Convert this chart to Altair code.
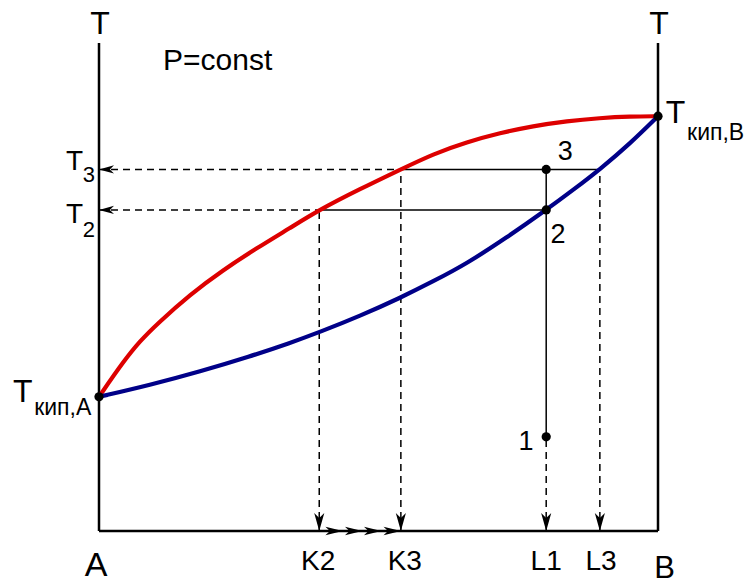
import altair as alt
import pandas as pd

# Boiling diagram (T–x) of a binary mixture A–B at constant pressure.
# Composition runs 0..100 (% of B), temperature in arbitrary units.

# vapour (dew) curve – upper, red
vapor_x = [0, 4.29, 7.33, 10.38, 16.28, 22.18, 28.26, 34.17, 39.4, 46.69,
           54.0, 59.75, 65.83, 71.74, 77.64, 83.72, 89.62, 94.99, 100]
vapor_t = [27.5, 34.63, 38.93, 42.42, 48.46, 53.48, 57.99, 62.09, 65.8, 70.08,
           74.1, 77.25, 79.71, 81.56, 82.99, 84.02, 84.63, 84.94, 85.0]

# liquid (boiling) curve – lower, blue
liquid_x = [0, 9.12, 18.07, 27.01, 34.17, 39.53, 46.69, 53.85, 59.75, 65.83,
            72.81, 80.0, 85.15, 89.6, 94.99, 100]
liquid_t = [27.5, 29.92, 32.68, 35.76, 38.52, 40.78, 44.06, 47.75, 51.13, 54.82,
            60.04, 65.8, 70.18, 74.1, 79.37, 85.0]

# characteristic temperatures and compositions
t_boil_a, t_boil_b = 27.5, 85.0
t1, t2, t3 = 19.3, 65.8, 74.1
k2, k3 = 39.4, 54.0
l1, l3 = 80.0, 89.6
shift_x = [43.6, 47.1, 50.5, 54.0]  # vapour composition drifting from K2 to K3

FONT = "Liberation Sans"
RED = "#DD0000"
BLUE = "#000088"
ARROW = "M0,0L-1,-0.28L-0.72,0L-1,0.28Z"
CHEVRON = "M0,0L-1,-0.24L-0.74,0L-1,0.24Z"

X = alt.Scale(domain=[0, 100], nice=False, zero=False)
Y = alt.Scale(domain=[0, 100], nice=False, zero=False)


def segs(rows):
    return pd.DataFrame(rows, columns=["x", "y", "x2", "y2"])


def rules(df, **kw):
    return alt.Chart(df).mark_rule(color="black", **kw).encode(
        x=alt.X("x:Q", scale=X, axis=None),
        y=alt.Y("y:Q", scale=Y, axis=None),
        x2="x2:Q",
        y2="y2:Q",
    )


frame = segs([
    [0, 0, 0, 100],
    [100, 0, 100, 100],
    [0, 0, 100, 0],
])

solid = segs([
    [k2, t2, l1, t2],
    [k3, t3, l3, t3],
    [l1, t1, l1, t3],
])

dashed = segs([
    [0, t2, k2, t2],
    [0, t3, k3, t3],
    [k2, 0, k2, t2],
    [k3, 0, k3, t3],
    [l1, 0, l1, t1],
    [l3, 0, l3, t3],
])

curves = pd.concat([
    pd.DataFrame({"x": vapor_x, "t": vapor_t, "phase": "vapor"}),
    pd.DataFrame({"x": liquid_x, "t": liquid_t, "phase": "liquid"}),
])

dots = pd.DataFrame({
    "x": [0, 100, l1, l1, l1],
    "t": [t_boil_a, t_boil_b, t1, t2, t3],
})

arrows = pd.DataFrame({
    "x": [0, 0, k2, k3, l1, l3],
    "t": [t3, t2, 0, 0, 0, 0],
    "ang": [180, 180, 90, 90, 90, 90],
    "sz": [900, 900, 1300, 1300, 1300, 1300],
})

chevrons = pd.DataFrame({"x": shift_x, "t": [0] * len(shift_x)})

left_labels = pd.DataFrame({
    "label": ["P=const", "T", "кип,A", "T", "кип,B", "T", "3", "T", "2"],
    "x": [11.45, -15.4, -11.6, 101.4, 105.2, -5.9, -2.9, -5.9, -2.9],
    "t": [94.5, 26.4, 23.8, 83.6, 80.1, 74.0, 71.5, 63.1, 60.2],
    "fs": [30, 32, 23, 32, 23, 28, 22, 28, 22],
})

center_labels = pd.DataFrame({
    "label": ["T", "T", "3", "2", "1", "K2", "K3", "L1", "L3", "A", "B"],
    "x": [0.2, 100.2, 83.4, 82.1, 76.4, 39.2, 54.7, 80.0, 89.8, -0.5, 101.2],
    "t": [101.9, 101.9, 76.0, 59.0, 16.6, -8.0, -8.0, -8.0, -8.0, -9.2, -9.6],
    "fs": [32, 32, 27, 27, 27, 28, 28, 28, 28, 34, 31],
})


def texts(df, align):
    return alt.Chart(df).mark_text(
        font=FONT, align=align, baseline="alphabetic", color="black"
    ).encode(
        x=alt.X("x:Q", scale=X, axis=None),
        y=alt.Y("t:Q", scale=Y, axis=None),
        text="label:N",
        size=alt.Size("fs:Q", scale=None, legend=None),
    )


curve_layer = alt.Chart(curves).mark_line(
    interpolate="basis", strokeWidth=4.2, strokeCap="round"
).encode(
    x=alt.X("x:Q", scale=X, axis=None),
    y=alt.Y("t:Q", scale=Y, axis=None),
    detail="phase:N",
    color=alt.Color(
        "phase:N",
        scale=alt.Scale(domain=["vapor", "liquid"], range=[RED, BLUE]),
        legend=None,
    ),
)

dot_layer = alt.Chart(dots).mark_circle(size=85, color="black", opacity=1).encode(
    x=alt.X("x:Q", scale=X, axis=None),
    y=alt.Y("t:Q", scale=Y, axis=None),
)

arrow_layer = alt.Chart(arrows).mark_point(
    shape=ARROW, filled=True, color="black", opacity=1, strokeWidth=0
).encode(
    x=alt.X("x:Q", scale=X, axis=None),
    y=alt.Y("t:Q", scale=Y, axis=None),
    angle=alt.Angle("ang:Q", scale=None),
    size=alt.Size("sz:Q", scale=None, legend=None),
)

chevron_layer = alt.Chart(chevrons).mark_point(
    shape=CHEVRON, filled=True, color="black", opacity=1, strokeWidth=0, size=1200
).encode(
    x=alt.X("x:Q", scale=X, axis=None),
    y=alt.Y("t:Q", scale=Y, axis=None),
)

chart = alt.layer(
    rules(dashed, strokeWidth=1.5, strokeDash=[7, 5]),
    rules(solid, strokeWidth=1.5),
    rules(frame, strokeWidth=2.5),
    curve_layer,
    dot_layer,
    arrow_layer,
    chevron_layer,
    texts(left_labels, "left"),
    texts(center_labels, "center"),
).properties(
    width=559,
    height=488,
    autosize=alt.AutoSizeParams(type="none"),
    padding={"left": 99, "top": 43, "right": 88, "bottom": 53},
    background="white",
).configure_view(stroke=None)

chart.save("out.html", embed_options={"renderer": "svg", "actions": False})
